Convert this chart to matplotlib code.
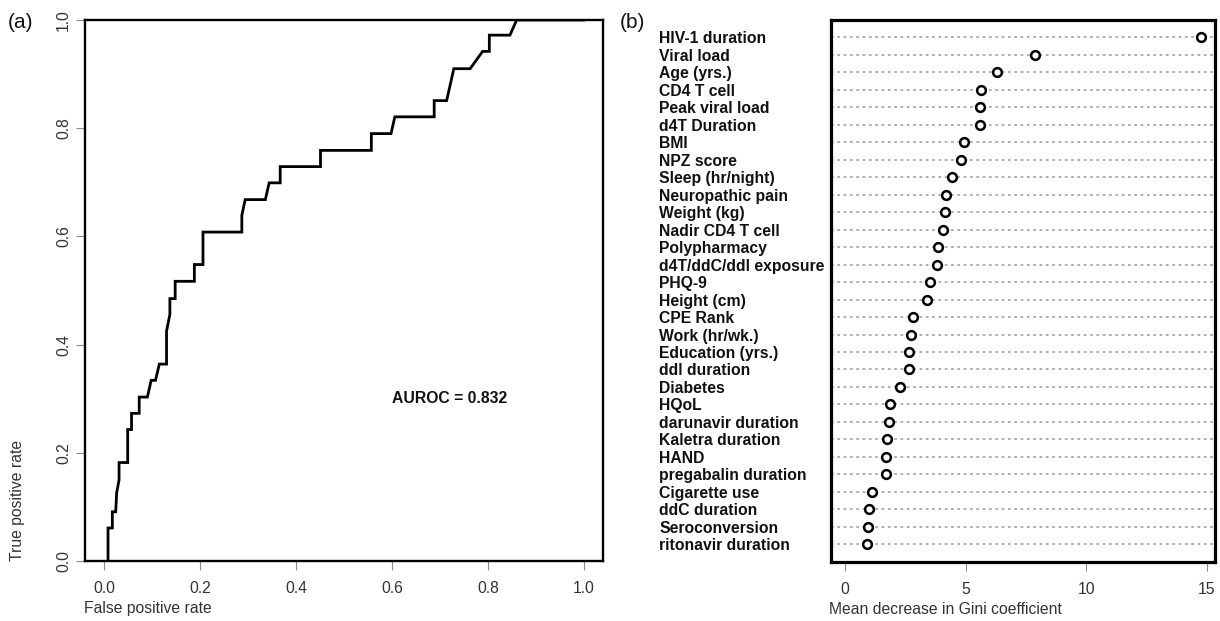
import matplotlib
matplotlib.use("Agg")
import matplotlib.pyplot as plt

plt.rcParams['font.family'] = ['Liberation Sans', 'DejaVu Sans']

# ---------------- data ----------------
roc_fpr = [0.008, 0.008, 0.017, 0.017, 0.024, 0.026, 0.031, 0.031, 0.049, 0.049,
           0.057, 0.057, 0.073, 0.073, 0.090, 0.098, 0.107, 0.115, 0.130, 0.130,
           0.137, 0.137, 0.148, 0.148, 0.188, 0.188, 0.206, 0.206, 0.287, 0.287,
           0.294, 0.336, 0.344, 0.367, 0.367, 0.451, 0.451, 0.557, 0.557, 0.598,
           0.606, 0.688, 0.688, 0.714, 0.729, 0.763, 0.789, 0.803, 0.803, 0.846,
           0.860, 1.000]
roc_tpr = [0.000, 0.061, 0.061, 0.091, 0.091, 0.126, 0.150, 0.182, 0.182, 0.243,
           0.243, 0.273, 0.273, 0.303, 0.303, 0.334, 0.334, 0.364, 0.364, 0.425,
           0.456, 0.485, 0.485, 0.517, 0.517, 0.548, 0.548, 0.608, 0.608, 0.639,
           0.668, 0.668, 0.699, 0.699, 0.729, 0.729, 0.759, 0.759, 0.790, 0.790,
           0.821, 0.821, 0.851, 0.851, 0.910, 0.910, 0.942, 0.942, 0.972, 0.972,
           1.000, 1.000]
auroc_text = "AUROC = 0.832"

features = ["HIV-1 duration", "Viral load", "Age (yrs.)", "CD4 T cell",
            "Peak viral load", "d4T Duration", "BMI", "NPZ score",
            "Sleep (hr/night)", "Neuropathic pain", "Weight (kg)",
            "Nadir CD4 T cell", "Polypharmacy", "d4T/ddC/ddl exposure", "PHQ-9",
            "Height (cm)", "CPE Rank", "Work (hr/wk.)", "Education (yrs.)",
            "ddl duration", "Diabetes", "HQoL", "darunavir duration",
            "Kaletra duration", "HAND", "pregabalin duration", "Cigarette use",
            "ddC duration", "Seroconversion", "ritonavir duration"]
gini = [14.75, 7.88, 6.30, 5.65, 5.61, 5.60, 4.95, 4.81, 4.42, 4.20, 4.13, 4.08,
        3.86, 3.83, 3.52, 3.39, 2.82, 2.74, 2.65, 2.64, 2.28, 1.87, 1.81, 1.74,
        1.71, 1.71, 1.11, 0.98, 0.95, 0.91]

roc_xticks = [0.0, 0.2, 0.4, 0.6, 0.8, 1.0]
gini_xticks = [0, 5, 10, 15]

# ---------------- figure ----------------
W, H = 1220, 621
fig = plt.figure(figsize=(W / 100, H / 100), dpi=100)

def px_axes(l, t, r, b):
    return fig.add_axes([l / W, 1 - b / H, (r - l) / W, (b - t) / H])

tick_col = '#8a8a8a'
lab_col = '#333333'
fs = 11.3

# ---- panel (a) ----
ax1 = px_axes(85, 20, 603, 561)
ax1.plot(roc_fpr, roc_tpr, color='black', lw=2.0, solid_joinstyle='miter')
ax1.set_xlim(-0.04, 1.04)
ax1.set_ylim(0, 1)
ax1.set_xticks(roc_xticks)
ax1.set_xticklabels([f"{v:.1f}" for v in roc_xticks])
ax1.set_yticks(roc_xticks)
ax1.set_yticklabels([f"{v:.1f}" for v in roc_xticks], rotation=90, va='center')
ax1.tick_params(axis='x', direction='out', length=6.5, width=0.8,
                color=tick_col, labelsize=fs, labelcolor=lab_col, pad=8)
ax1.tick_params(axis='y', direction='out', length=6.5, width=0.8,
                color=tick_col, labelsize=fs, labelcolor=lab_col, pad=3.5)
for s in ax1.spines.values():
    s.set_linewidth(1.7)
ax1.text(0.72, 0.30, auroc_text, fontsize=fs, fontweight='bold',
         ha='center', va='center', color='#111111')

fig.text(84 / W, 1 - 608 / H, "False positive rate", fontsize=fs,
         ha='left', va='center', color=lab_col)
fig.text(18 / W, 1 - 561 / H, "True positive rate", fontsize=fs, rotation=90,
         ha='center', va='bottom', color=lab_col)
fig.text(8 / W, 1 - 22 / H, "(a)", fontsize=15, ha='left', va='center',
         color='#111111')

# ---- panel (b) ----
ax2 = px_axes(830.7, 20, 1215, 561.7)
n = len(features)
pos = list(range(n, 0, -1))
for p in pos:
    ax2.axhline(p, color='#a8a8a8', lw=1.3, linestyle=(0, (1.5, 2.0)), zorder=1)
ax2.plot(gini, pos, 'o', mfc='white', mec='black', ms=6.3, mew=1.8, zorder=3)
ax2.set_xlim(-0.59, 15.34)
ax2.set_ylim(0, n + 1)
ax2.set_xticks(gini_xticks)
ax2.set_xticklabels([str(v) for v in gini_xticks])
ax2.set_yticks(pos)
ax2.set_yticklabels(features)
ax2.tick_params(axis='x', direction='out', length=6.5, width=0.8,
                color=tick_col, labelsize=fs, labelcolor=lab_col, pad=8)
ax2.tick_params(axis='y', length=0, pad=(830.7 - 659.3) * 0.72,
                labelsize=fs, labelcolor='#111111')
for lab in ax2.get_yticklabels():
    lab.set_ha('left')
    lab.set_fontweight('bold')
for s in ax2.spines.values():
    s.set_linewidth(2.3)

fig.text(829 / W, 1 - 610 / H, "Mean decrease in Gini coefficient", fontsize=fs,
         ha='left', va='center', color=lab_col)
fig.text(620 / W, 1 - 23 / H, "(b)", fontsize=15, ha='left', va='center',
         color='#111111')

fig.savefig("out.png", dpi=100)
